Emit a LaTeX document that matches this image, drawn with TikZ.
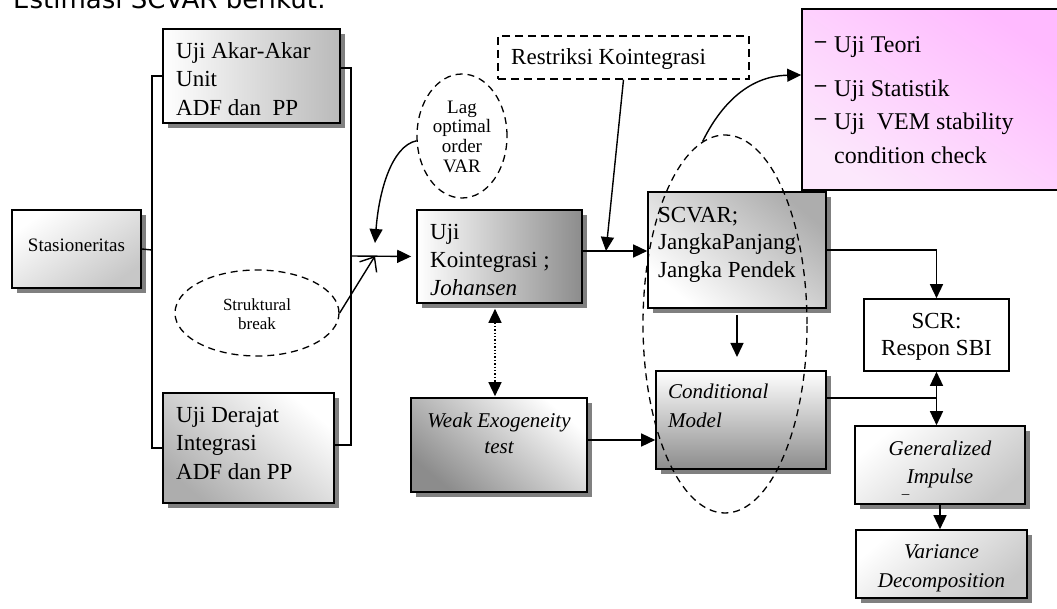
\documentclass[tikz,border=0pt]{standalone}
\usepackage{fontspec}
\setmainfont{Liberation Serif}
\newfontfamily\titlefont{DejaVu Sans}
\usetikzlibrary{arrows.meta,shadows,shapes.geometric}
\definecolor{pinkA}{RGB}{252,232,252}
\definecolor{pinkB}{RGB}{255,186,255}
\tikzset{
  box/.style={rectangle, draw=black, line width=1.6pt, inner sep=0pt},
  shad/.style={drop shadow={shadow xshift=5pt,shadow yshift=-5pt,fill=black!50,opacity=1}},
  conn/.style={line width=1.4pt},
  arr/.style={conn,-{Triangle[length=14pt,width=13pt]}},
  darr/.style={conn,{Triangle[length=14pt,width=13pt]}-{Triangle[length=14pt,width=13pt]}},
  dashell/.style={ellipse, draw=black, line width=1.3pt, dash pattern=on 7pt off 5pt, inner sep=0pt},
  tl/.style={inner sep=0pt, anchor=north west, align=left, font=\fontsize{23}{28.5}\selectfont},
  tc/.style={inner sep=0pt, anchor=north, align=center},
  tb/.style={inner sep=0pt, anchor=base west, font=\fontsize{24}{28}\selectfont},
  bul/.style={inner sep=0pt, anchor=base west, font=\fontsize{22}{24}\selectfont\bfseries}
}
\begin{document}
\begin{tikzpicture}[x=1pt,y=-1pt]
\useasboundingbox (0,0) rectangle (1057,609);
\begin{scope}
\clip (0,0) rectangle (1057,609);
% title (cut at top)
\node[inner sep=0pt, anchor=base west, font=\titlefont\fontsize{26}{30}\selectfont] (title) at (13,9) {Estimasi SCVAR berikut:};

% boxes
\node[box, shad, minimum width=177pt, minimum height=94pt, left color=white, right color=black!27] (b1) at (251.5,76) {};
\node[box, shad, minimum width=129pt, minimum height=78pt, top color=white, bottom color=black!22, shading angle=35] (stas) at (76.5,249) {};
\node[box, shad, minimum width=171pt, minimum height=110pt, top color=white, bottom color=black!32, shading angle=-40] (b2) at (248.5,448) {};
\node[box, shad, minimum width=165pt, minimum height=93pt, left color=white, right color=black!45] (koin) at (499.5,256.5) {};
\node[box, shad, minimum width=176pt, minimum height=94pt, top color=white, bottom color=black!45, shading angle=-40] (weak) at (499,445) {};
\node[rectangle, draw=black, line width=1.3pt, dash pattern=on 8pt off 5pt, minimum width=251pt, minimum height=43pt, inner sep=0pt] (restr) at (623.5,57.5) {};
\node[box, shad, minimum width=178pt, minimum height=116pt, top color=black!32, bottom color=white, shading angle=-40] (scvar) at (737,250) {};
\node[box, shad, minimum width=170pt, minimum height=98pt, top color=white, bottom color=black!45] (cond) at (741,420) {};
\node[box, minimum width=256pt, minimum height=181pt, top color=pinkB, bottom color=pinkA, shading angle=-35] (pink) at (930,99.5) {};
\node[box, fill=white, minimum width=145pt, minimum height=72pt] (scr) at (936.5,335) {};
\node[box, shad, minimum width=170pt, minimum height=78pt, top color=white, bottom color=black!22, shading angle=40] (gen) at (940,465) {};
\node[box, shad, minimum width=171pt, minimum height=68pt, top color=white, bottom color=black!22, shading angle=40] (var) at (941.5,564) {};

% ellipses
\node[dashell, minimum width=90pt, minimum height=124pt] (lag) at (462,136) {};
\node[dashell, minimum width=164pt, minimum height=86pt] (struk) at (257,313) {};

% texts
\node[tl] (b1t) at (176,38) {\strut Uji Akar-Akar\\Unit\\ADF dan\ \ PP};
\node[tl] (b2t) at (176,402) {\strut Uji Derajat\\Integrasi\\ADF dan PP};
\node[tl, font=\fontsize{23}{28}\selectfont] (koint) at (430,219.4) {\strut Uji\\Kointegrasi ;\\\textit{Johansen}};
\node[tl, font=\fontsize{23}{27.5}\selectfont] (scvart) at (658,202.7) {\strut SCVAR;\\JangkaPanjang\\Jangka Pendek};
\node[tl, font=\fontsize{21}{29}\selectfont\itshape] (condt) at (668,377.7) {\strut Conditional\\Model};
\node[tc, font=\fontsize{21}{26}\selectfont\itshape] (weakt) at (499,408.8) {\strut Weak Exogeneity\\test};
\node[tc, font=\fontsize{21}{28}\selectfont\itshape] (gent) at (940,435.4) {\strut Generalized\\Impulse};
\node[inner sep=0pt, font=\fontsize{15}{18}\selectfont] (gendash) at (905.5,497) {–};
\node[tc, font=\fontsize{21}{29}\selectfont\itshape] (vart) at (941.5,537.7) {\strut Variance\\Decomposition};
\node[tc, font=\fontsize{23}{27}\selectfont] (scrt) at (936.5,309.1) {\strut SCR:\\Respon SBI};
\node[tc, font=\fontsize{19}{19.7}\selectfont] (lagt) at (462,99.2) {\strut Lag\\optimal\\order\\VAR};
\node[tc, font=\fontsize{17}{19.5}\selectfont] (strukt) at (257,296.4) {\strut Struktural\\break};
\node[inner sep=0pt, anchor=base west, font=\fontsize{23}{28}\selectfont] (restrt) at (511,65) {Restriksi Kointegrasi};
\node[inner sep=0pt, anchor=base, font=\fontsize{19}{22}\selectfont] (stast) at (76.5,252) {Stasioneritas};

% pink list
\node[bul] (d1) at (815,48) {–};
\node[tb] (p1) at (834,53) {Uji Teori};
\node[bul] (d2) at (815,92) {–};
\node[tb] (p2) at (834,97) {Uji Statistik};
\node[bul] (d3) at (815,125) {–};
\node[tb] (p3) at (834,130) {Uji\ \ VEM stability};
\node[tb] (p4) at (834,164) {condition check};

% coordinates
\coordinate (lb) at (152,250);
\coordinate (rb) at (351,256);
\coordinate (j1) at (375,256);
\coordinate (lagend) at (375,243);
\coordinate (j2) at (606,251);
\coordinate (j3) at (937,398);

% connectors
\draw[conn] (b1.west) -| (lb) |- (b2.west);
\draw[conn] (stas.east) -- (lb);
\draw[conn] ([yshift=8pt]b1.east) -| (rb) |- ([yshift=3pt]b2.east);
\draw[arr, shorten >=5pt] (rb) -- (koin.west);
\draw[conn, -{Straight Barb[length=12pt,width=20pt]}] (struk.east) -- (j1);
\draw[arr] (lag.186) .. controls (392,146) and (379,190) .. (lagend);
\draw[arr] (restr.south) -- (j2);
\draw[arr] (koin.east |- j2) -- (scvar.west |- j2);
\draw[conn, dotted, {Triangle[length=14pt,width=13pt]}-{Triangle[length=14pt,width=13pt]}, shorten <=5pt, shorten >=1pt] ([xshift=-4.5pt]koin.south) -- ([xshift=-4pt]weak.north);
\draw[arr] (weak.east |- 0,440) -- (cond.west |- 0,440);
\draw[arr] (scvar.south |- 0,315) -- (scvar.south |- 0,357);
\draw[arr] (scvar.east) -| (scr.north);
\draw[conn] (cond.east |- j3) -- (j3);
\draw[darr] (scr.south) -- (scr.south |- gen.north);
\draw[arr] (gen.south) -- (gen.south |- var.north);

% big dashed ellipse and curve
\node[dashell, minimum width=164pt, minimum height=378pt] (big) at (725,324) {};
\draw[arr] (big.97) .. controls (718,110) and (745,76) .. (pink.west |- 0,75);
\end{scope}
\end{tikzpicture}
\end{document}
